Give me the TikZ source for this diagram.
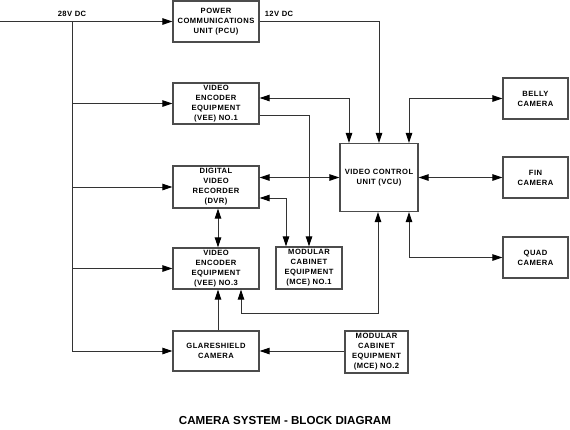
\documentclass[tikz,border=0pt]{standalone}
\usepackage{fontspec}
\setmainfont{Liberation Sans}
\newfontfamily\spaced[LetterSpace=6]{Liberation Sans}
\usetikzlibrary{arrows.meta}
\begin{document}
\begin{tikzpicture}[x=1pt,y=-1pt,
  box/.style={draw=black!70,line width=1.2pt,fill=white,inner sep=1pt,align=center,
    font=\spaced\fontsize{7.6}{10}\selectfont\bfseries},
  wire/.style={draw=black!80,line width=0.9pt},
  tip/.tip={Triangle[length=10pt,width=6.5pt,color=black]},
  arr/.style={wire,-tip},
  dbl/.style={wire,tip-tip},
  lbl/.style={font=\spaced\fontsize{7.6}{9}\selectfont\bfseries,inner sep=0pt}]
\useasboundingbox (0,0) rectangle (570,429);
% boxes
\node[box,minimum width=86pt,minimum height=41pt] (pcu) at (216,21.5) {POWER\\COMMUNICATIONS\\UNIT (PCU)};
\node[box,minimum width=86pt,minimum height=41pt] (vee1) at (216,103.5) {VIDEO\\ENCODER\\EQUIPMENT\\(VEE) NO.1};
\node[box,minimum width=86pt,minimum height=42pt] (dvr) at (216,187) {DIGITAL\\VIDEO\\RECORDER\\(DVR)};
\node[box,minimum width=86pt,minimum height=41pt] (vee3) at (216,268.5) {VIDEO\\ENCODER\\EQUIPMENT\\(VEE) NO.3};
\node[box,minimum width=86pt,minimum height=40pt] (glare) at (216,351) {GLARESHIELD\\CAMERA};
\node[box,minimum width=66pt,minimum height=42pt] (mce1) at (309,268) {MODULAR\\CABINET\\EQUIPMENT\\(MCE) NO.1};
\node[box,minimum width=63pt,minimum height=42pt] (mce2) at (376.5,352) {MODULAR\\CABINET\\EQUIPMENT\\(MCE) NO.2};
\node[box,minimum width=78pt,minimum height=68pt] (vcu) at (379,177.5) {VIDEO CONTROL\\UNIT (VCU)};
\node[box,minimum width=65pt,minimum height=41pt] (belly) at (535.5,98.5) {BELLY\\CAMERA};
\node[box,minimum width=65pt,minimum height=41pt] (fin) at (535.5,177.5) {FIN\\CAMERA};
\node[box,minimum width=65pt,minimum height=41pt] (quad) at (535.5,257.5) {QUAD\\CAMERA};
% power
\coordinate (in) at (0,21.5);
\coordinate (bustop) at (72,21.5);
\coordinate (busbot) at (72,351);
\draw[arr] (in) -- (pcu.west);
\draw[wire] (bustop) -- (busbot);
\draw[arr] (bustop |- vee1.west) -- (vee1.west);
\draw[arr] (bustop |- dvr.west) -- (dvr.west);
\draw[arr] (bustop |- vee3.west) -- (vee3.west);
\draw[arr] (busbot) -- (glare.west);
\node[lbl] (v28) at (72,14) {28V DC};
\draw[arr] (pcu.east) -| (vcu.north);
\node[lbl] (v12) at (279,14) {12V DC};
% signals
\draw[dbl] ([yshift=5.5pt]vee1.east) -| ([xshift=-30pt]vcu.north);
\draw[arr] ([yshift=-11.5pt]vee1.east) -| (mce1.north);
\draw[dbl] (belly.west) -| ([xshift=30pt]vcu.north);
\draw[dbl] (vcu.east) -- (fin.west);
\draw[dbl] (quad.west) -| ([xshift=30pt]vcu.south);
\draw[dbl] (dvr.east |- vcu.west) -- (vcu.west);
\draw[dbl] ([yshift=-11pt]dvr.east) -| ([xshift=-23pt]mce1.north);
\draw[dbl] ([xshift=2pt]dvr.south) -- ([xshift=2pt]vee3.south |- vee3.north);
\draw[arr] ([xshift=2pt]glare.north) -- ([xshift=2pt]vee3.south);
\draw[dbl] ([xshift=-1pt]vcu.south) |- ([xshift=25pt,yshift=-24pt]vee3.south) -- ([xshift=25pt]vee3.south);
\draw[arr] (mce2.west |- glare.east) -- (glare.east);
% title
\node[font=\fontsize{11.6}{13}\selectfont\bfseries,inner sep=0pt] (title) at (285,420) {CAMERA SYSTEM - BLOCK DIAGRAM};
\end{tikzpicture}
\end{document}
